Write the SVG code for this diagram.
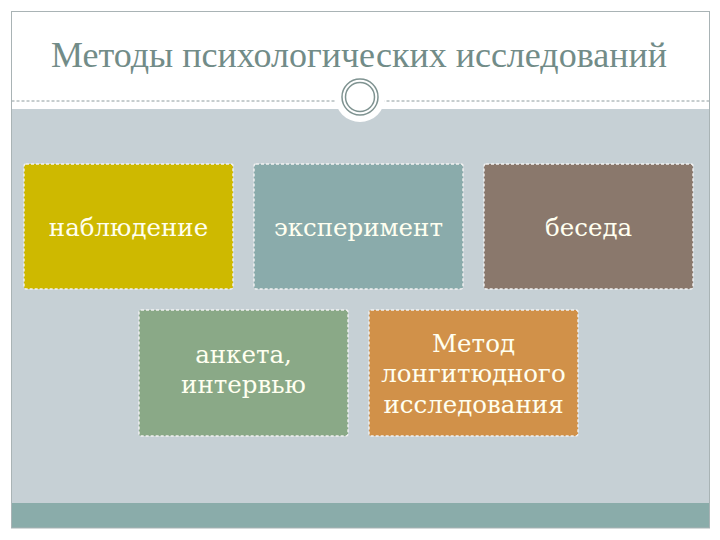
<svg xmlns="http://www.w3.org/2000/svg" width="720" height="540" viewBox="0 0 720 540">
<style>
.box{stroke:#F2F2F2;stroke-width:1.4;stroke-dasharray:3 2}
.lbl{font-family:"DejaVu Serif","Liberation Serif",serif;font-size:24.5px;fill:#FFFFF0;text-anchor:middle}
.title{font-family:"Liberation Serif",serif;font-size:36px;fill:#728C88;text-anchor:middle}
</style>
<rect x="0" y="0" width="720" height="540" fill="#FFFFFF"/>
<rect x="11.5" y="109" width="698" height="394" fill="#C6D0D5"/>
<rect x="11.5" y="503" width="698" height="25" fill="#8AACAA"/>
<line x1="11.5" y1="101" x2="709.5" y2="101" stroke="#8E9C9E" stroke-width="1" stroke-dasharray="3 2"/>
<rect x="11.5" y="11.5" width="698" height="516.5" fill="none" stroke="#A9B3B5" stroke-width="1"/>
<g id="ornament">
<circle cx="360" cy="97" r="25" fill="#FFFFFF"/>
<circle cx="360" cy="97" r="18" fill="#FFFFFF" stroke="#7F9391" stroke-width="1.5"/>
<circle cx="360" cy="97" r="14.5" fill="none" stroke="#7F9391" stroke-width="1.5"/>
</g>
<text class="title" x="359" y="67">Методы психологических исследований</text>
<g id="connectors"></g>
<g id="n1"><rect class="box" x="24" y="164" width="209" height="125" rx="2" fill="#CEB900"/><text class="lbl" x="128.5" y="236">наблюдение</text></g>
<g id="n2"><rect class="box" x="254" y="164" width="209" height="125" rx="2" fill="#8AABAB"/><text class="lbl" x="358.5" y="236">эксперимент</text></g>
<g id="n3"><rect class="box" x="484" y="164" width="209" height="125" rx="2" fill="#8A786C"/><text class="lbl" x="588.5" y="236">беседа</text></g>
<g id="n4"><rect class="box" x="139" y="310" width="209" height="126" rx="2" fill="#8AA987"/><text class="lbl" x="243.5" y="363">анкета,</text><text class="lbl" x="243.5" y="393">интервью</text></g>
<g id="n5"><rect class="box" x="369" y="310" width="209" height="126" rx="2" fill="#D19149"/><text class="lbl" x="473.5" y="352">Метод</text><text class="lbl" x="473.5" y="382">лонгитюдного</text><text class="lbl" x="473.5" y="413">исследования</text></g>
</svg>
